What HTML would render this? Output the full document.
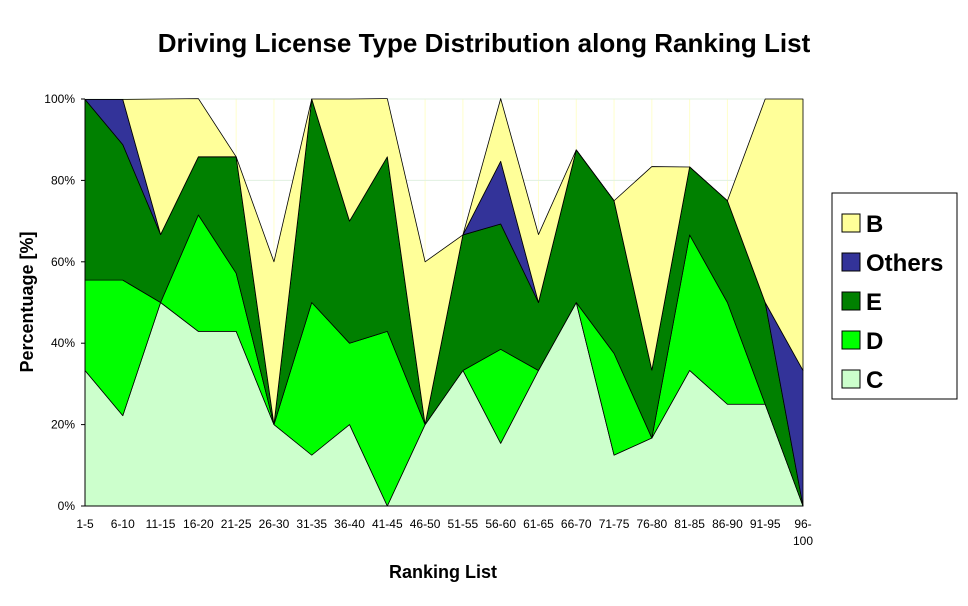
<!DOCTYPE html>
<html><head><meta charset="utf-8"><style>
body{margin:0;background:#fff;}
svg text{font-family:"Liberation Sans",Arial,sans-serif;}
</style></head><body>
<svg id="chart" width="968" height="601" xmlns="http://www.w3.org/2000/svg">
<rect width="968" height="601" fill="#fff"/>
<text x="484" y="52" text-anchor="middle" font-size="26" font-weight="bold">Driving License Type Distribution along Ranking List</text>
<g id="grid"></g>
<g id="areas"></g>
<g id="axes"></g>
<text transform="translate(33,302) rotate(-90)" text-anchor="middle" font-size="18" font-weight="bold">Percentuage [%]</text>
<text x="443" y="578" text-anchor="middle" font-size="18" font-weight="bold">Ranking List</text>
<g id="legend"></g>
</svg>
<script>
const categories=["1-5","6-10","11-15","16-20","21-25","26-30","31-35","36-40","41-45","46-50","51-55","56-60","61-65","66-70","71-75","76-80","81-85","86-90","91-95","96-100"];
const seriesC=[33.3,22.2,50,42.9,42.9,20,12.5,20,0,20,33.3,15.4,33.3,50,12.5,16.7,33.3,25,25,0];
const seriesD=[22.2,33.3,0,28.6,14.3,0,37.5,20,42.9,0,0,23.1,0,0,25,0,33.3,25,0,0];
const seriesE=[44.4,33.3,16.7,14.3,28.6,0,50,30,42.9,0,33.3,30.8,16.7,37.5,37.5,16.7,16.7,25,25,0];
const seriesOthers=[0,11.1,0,0,0,0,0,0,0,0,0,15.4,0,0,0,0,0,0,0,33.3];
const seriesB=[0,0,33.3,14.3,0,40,0,30,14.3,40,0,15.4,16.7,0,0,50,0,0,50,66.7];
const yTicks=[0,20,40,60,80,100];
const NS="http://www.w3.org/2000/svg";
const X0=85,X1=803,Y0=506,Y1=99;
const xs=i=>X0+(X1-X0)*i/(categories.length-1);
const ys=v=>Y0-(Y0-Y1)*v/100;
function mk(t,a,p){const e=document.createElementNS(NS,t);for(const k in a)e.setAttribute(k,a[k]);p.appendChild(e);return e;}
const grid=document.getElementById('grid'),areas=document.getElementById('areas'),axes=document.getElementById('axes'),legend=document.getElementById('legend');
categories.forEach((c,i)=>{const l=mk('line',{x1:xs(i),x2:xs(i),y1:Y1,y2:Y0,stroke:'#FFFFCC','stroke-width':1},grid);

});
yTicks.forEach(t=>{const l=mk('line',{x1:X0,x2:X1,y1:ys(t),y2:ys(t),stroke:'#E0F0E0','stroke-width':1},grid);

});
const series=[["C",seriesC,"#CCFFCC"],["D",seriesD,"#00FF00"],["E",seriesE,"#008000"],["Others",seriesOthers,"#333399"],["B",seriesB,"#FFFF99"]];
let base=categories.map(()=>0);
series.forEach(([name,vals,col])=>{const top=base.map((b,i)=>b+vals[i]);
let d='';top.forEach((v,i)=>{d+=(i?'L':'M')+xs(i)+','+ys(v);});
for(let i=base.length-1;i>=0;i--)d+='L'+xs(i)+','+ys(base[i]);d+='Z';
const p=mk('path',{d:d,fill:col,stroke:'#000','stroke-width':0.8,'stroke-linejoin':'round'},areas);


base=top;});
const ax=mk('polyline',{points:`${X0},${Y1} ${X0},${Y0} ${X1},${Y0}`,fill:'none',stroke:'#000','stroke-width':1},axes);


yTicks.forEach(t=>{const tx=mk('text',{x:75,y:ys(t)+4,'text-anchor':'end','font-size':12},axes);tx.textContent=t+'%';


const tk=mk('line',{x1:X0-4,x2:X0,y1:ys(t),y2:ys(t),stroke:'#000'},axes);

});
categories.forEach((c,i)=>{const parts=c==="96-100"?["96-","100"]:[c];
parts.forEach((p,j)=>{const tx=mk('text',{x:xs(i),y:528+j*17,'text-anchor':'middle','font-size':12},axes);tx.textContent=p;

});});
const lb=mk('rect',{x:832,y:193,width:125,height:206,fill:'#fff',stroke:'#000','stroke-width':1},legend);


series.slice().reverse().forEach(([name,vals,col],k)=>{const y=224+k*39;
const sw=mk('rect',{x:842,y:y-10,width:18,height:18,fill:col,stroke:'#000'},legend);


const t=mk('text',{x:866,y:y+8,'font-size':24,'font-weight':'bold'},legend);t.textContent=name;

});
</script>
</body></html>
